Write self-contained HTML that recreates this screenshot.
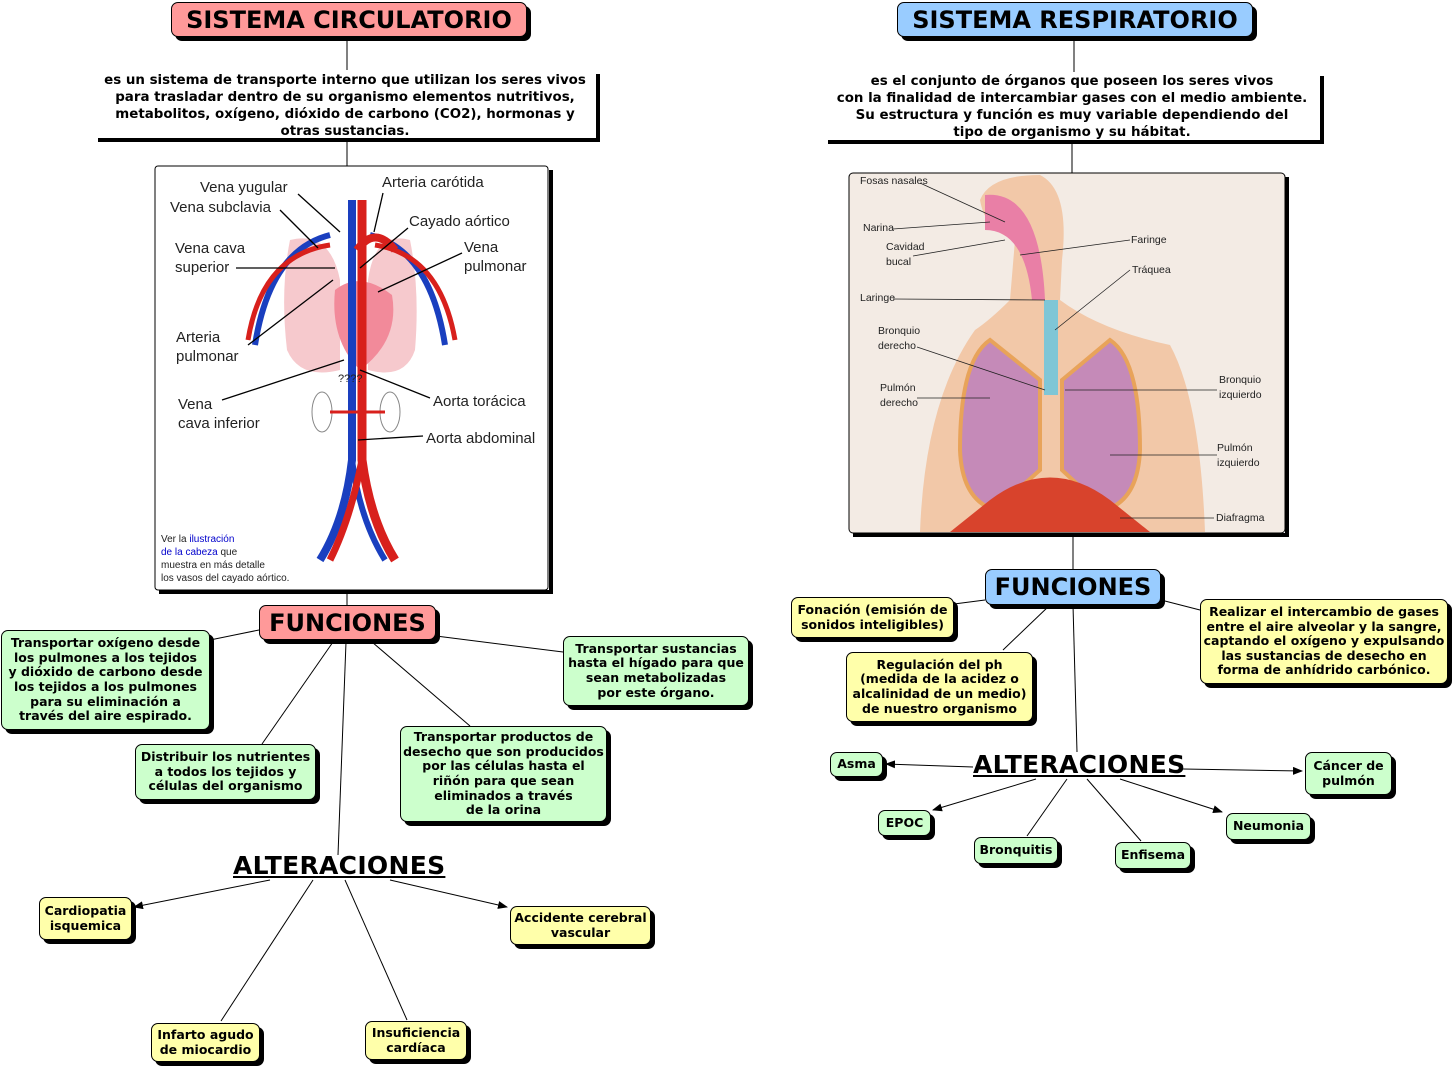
<!DOCTYPE html>
<html><head><meta charset="utf-8">
<style>
body{margin:0;width:1456px;height:1068px;background:#fff;position:relative;overflow:hidden;font-family:"DejaVu Sans","Liberation Sans",sans-serif;}
.b{position:absolute;box-sizing:border-box;border:1px solid #000;border-radius:7px;box-shadow:4px 4px 0 #000;display:flex;align-items:center;justify-content:center;text-align:center;font-weight:bold;font-size:12.5px;line-height:14.6px;color:#000;}
.g{background:#ccffcc}.y{background:#ffffaa}.p{background:#ff9999}.bl{background:#99ccff}
.t{font-size:24px;line-height:28px;font-family:"DejaVu Sans",sans-serif;}
.d{position:absolute;box-sizing:border-box;background:#fff;box-shadow:4px 4px 0 #000;text-align:center;font-weight:bold;font-size:13.4px;line-height:17px;white-space:nowrap;}
.alt{position:absolute;font-weight:bold;font-size:25px;letter-spacing:0.3px;text-decoration:underline;}
.lab{position:absolute;font-family:"Liberation Sans",sans-serif;font-size:15px;line-height:19px;color:#222;}
.sl{position:absolute;font-family:"Liberation Sans",sans-serif;font-size:10.5px;line-height:15px;color:#222;}
svg{position:absolute;left:0;top:0}
</style></head><body>
<svg width="1456" height="1068">
<defs><marker id="a" markerWidth="10" markerHeight="8" refX="9" refY="4" orient="auto"><path d="M0,0L10,4L0,8z" fill="#000"/></marker></defs>
<g stroke="#000" stroke-width="1" fill="none">
<line x1="347" y1="37" x2="347" y2="72"/><line x1="347" y1="138" x2="347" y2="166"/><line x1="347" y1="592" x2="347" y2="605"/>
<line x1="259" y1="630" x2="210" y2="640"/><line x1="333" y1="642" x2="262" y2="744"/><line x1="346" y1="642" x2="338" y2="855"/>
<line x1="372" y1="642" x2="470" y2="726"/><line x1="436" y1="636" x2="563" y2="652"/>
<line x1="270" y1="880" x2="134" y2="907" marker-end="url(#a)"/><line x1="390" y1="880" x2="507" y2="907" marker-end="url(#a)"/>
<line x1="313" y1="880" x2="221" y2="1021"/><line x1="345" y1="880" x2="407" y2="1020"/>
<line x1="1074" y1="37" x2="1074" y2="72"/><line x1="1072" y1="142" x2="1072" y2="173"/><line x1="1073" y1="534" x2="1073" y2="569"/>
<line x1="985" y1="600" x2="954" y2="604"/><line x1="1050" y1="605" x2="1003" y2="650"/><line x1="1073" y1="605" x2="1077" y2="752"/><line x1="1161" y1="600" x2="1200" y2="610"/>
<line x1="973" y1="767" x2="886" y2="764" marker-end="url(#a)"/><line x1="1183" y1="769" x2="1302" y2="771" marker-end="url(#a)"/>
<line x1="1036" y1="779" x2="933" y2="810" marker-end="url(#a)"/><line x1="1067" y1="779" x2="1027" y2="836"/>
<line x1="1087" y1="779" x2="1141" y2="841"/><line x1="1120" y1="779" x2="1222" y2="812" marker-end="url(#a)"/>
</g>
<rect x="155" y="166" width="393" height="424" fill="#fff" stroke="#000" stroke-width="1" rx="3"/>
<rect x="549" y="170" width="4" height="424" fill="#000"/><rect x="159" y="590" width="394" height="4" fill="#000"/>
<g>
<path d="M290,240 Q330,230 340,280 L340,370 Q300,380 287,350 Q280,290 290,240z" fill="#f6c9cd"/>
<path d="M410,240 Q375,230 368,280 L368,370 Q405,380 415,350 Q420,290 410,240z" fill="#f6c9cd"/>
<path d="M335,290 Q360,270 392,295 Q400,340 360,370 Q330,340 335,290z" fill="#f28a9a"/>
<path d="M255,345 Q270,250 330,235" stroke="#1a3fbf" stroke-width="6" fill="none"/>
<path d="M445,345 Q430,250 370,235" stroke="#1a3fbf" stroke-width="6" fill="none"/>
<path d="M248,340 Q262,255 330,245" stroke="#d8201c" stroke-width="5" fill="none"/>
<path d="M455,340 Q440,255 375,245" stroke="#d8201c" stroke-width="5" fill="none"/>
<path d="M352,200 L352,460 Q345,520 320,560" stroke="#1a3fbf" stroke-width="8" fill="none"/>
<path d="M362,200 L362,460 Q370,520 395,560" stroke="#d8201c" stroke-width="9" fill="none"/>
<path d="M352,460 Q360,520 385,560" stroke="#1a3fbf" stroke-width="6" fill="none"/>
<path d="M362,460 Q350,520 330,560" stroke="#d8201c" stroke-width="7" fill="none"/>
<ellipse cx="322" cy="412" rx="10" ry="20" fill="#fff" stroke="#888"/><ellipse cx="390" cy="412" rx="10" ry="20" fill="#fff" stroke="#888"/>
<path d="M330,412 L385,412" stroke="#d8201c" stroke-width="3"/>
<path d="M357,250 Q375,225 395,250" stroke="#d8201c" stroke-width="8" fill="none"/>
</g>
<g stroke="#000" stroke-width="1.3">
<line x1="298" y1="194" x2="340" y2="232"/><line x1="280" y1="210" x2="318" y2="248"/><line x1="236" y1="268" x2="335" y2="268"/>
<line x1="248" y1="345" x2="333" y2="280"/><line x1="222" y1="400" x2="344" y2="360"/><line x1="383" y1="193" x2="374" y2="232"/>
<line x1="408" y1="228" x2="360" y2="268"/><line x1="462" y1="253" x2="378" y2="292"/><line x1="430" y1="398" x2="360" y2="370"/><line x1="423" y1="436" x2="358" y2="440"/>
</g>
<rect x="849" y="173" width="436" height="360" fill="#f3ebe4" stroke="#000" rx="4"/>
<rect x="1285" y="177" width="4" height="360" fill="#000"/><rect x="853" y="533" width="436" height="4" fill="#000"/>
<path d="M920,532 Q925,400 975,330 Q990,320 1010,300 L1015,240 Q985,230 980,200 Q990,175 1040,175 Q1070,190 1062,260 L1060,300 Q1100,330 1170,345 Q1200,400 1205,532z" fill="#f2c8a8"/>
<path d="M990,340 Q960,360 960,450 Q962,500 995,510 L1040,470 L1040,380z" fill="#c58ab8" stroke="#e8a35a" stroke-width="4"/>
<path d="M1110,340 Q1140,360 1140,450 Q1138,500 1105,510 L1062,470 L1062,380z" fill="#c58ab8" stroke="#e8a35a" stroke-width="4"/>
<rect x="1044" y="300" width="14" height="95" fill="#7fc6d6"/>
<path d="M985,195 Q1040,190 1045,300 L1032,300 Q1025,230 985,230z" fill="#e97fa6"/>
<path d="M990,500 Q1050,455 1110,500 L1150,532 L950,532z" fill="#d8432c"/>
<g stroke="#222" stroke-width="0.8">
<line x1="920" y1="183" x2="1005" y2="222"/><line x1="893" y1="229" x2="990" y2="222"/><line x1="913" y1="256" x2="1005" y2="240"/>
<line x1="1130" y1="240" x2="1020" y2="255"/><line x1="1130" y1="270" x2="1055" y2="330"/><line x1="893" y1="299" x2="1045" y2="300"/>
<line x1="917" y1="347" x2="1045" y2="390"/><line x1="917" y1="398" x2="990" y2="398"/><line x1="1217" y1="390" x2="1065" y2="390"/>
<line x1="1217" y1="455" x2="1110" y2="455"/><line x1="1214" y1="518" x2="1120" y2="518"/>
</g>
</svg>
<div class="b p t" style="left:171px;top:2px;width:356px;height:35px">SISTEMA CIRCULATORIO</div>
<div class="b bl t" style="left:897px;top:2px;width:356px;height:35px">SISTEMA RESPIRATORIO</div>
<div class="d" style="left:94px;top:70px;width:502px;height:68px;padding-top:2px">es un sistema de transporte interno que utilizan los seres vivos<br>para trasladar dentro de su organismo elementos nutritivos,<br>metabolitos, oxígeno, dióxido de carbono (CO2), hormonas y<br>otras sustancias.</div>
<div class="d" style="left:824px;top:72px;width:496px;height:68px;padding-top:1px">es el conjunto de órganos que poseen los seres vivos<br>con la finalidad de intercambiar gases con el medio ambiente.<br>Su estructura y función es muy variable dependiendo del<br>tipo de organismo y su hábitat.</div>
<div class="lab" style="left:200px;top:178px">Vena yugular</div>
<div class="lab" style="left:170px;top:198px">Vena subclavia</div>
<div class="lab" style="left:175px;top:239px">Vena cava<br>superior</div>
<div class="lab" style="left:176px;top:328px">Arteria<br>pulmonar</div>
<div class="lab" style="left:178px;top:395px">Vena<br>cava inferior</div>
<div class="lab" style="left:382px;top:173px">Arteria carótida</div>
<div class="lab" style="left:409px;top:212px">Cayado aórtico</div>
<div class="lab" style="left:464px;top:238px">Vena<br>pulmonar</div>
<div class="lab" style="left:433px;top:392px">Aorta torácica</div>
<div class="lab" style="left:426px;top:429px">Aorta abdominal</div>
<div class="lab" style="left:338px;top:370px;font-size:11px">????</div>
<div style="position:absolute;left:161px;top:533px;font-family:'Liberation Sans',sans-serif;font-size:10px;line-height:13px;color:#222">Ver la <span style="color:#00c">ilustración<br>de la cabeza</span> que<br>muestra en más detalle<br>los vasos del cayado aórtico.</div>
<div class="sl" style="left:860px;top:174px">Fosas nasales</div>
<div class="sl" style="left:863px;top:221px">Narina</div>
<div class="sl" style="left:886px;top:240px">Cavidad<br>bucal</div>
<div class="sl" style="left:860px;top:291px">Laringe</div>
<div class="sl" style="left:878px;top:324px">Bronquio<br>derecho</div>
<div class="sl" style="left:880px;top:381px">Pulmón<br>derecho</div>
<div class="sl" style="left:1131px;top:233px">Faringe</div>
<div class="sl" style="left:1132px;top:263px">Tráquea</div>
<div class="sl" style="left:1219px;top:373px">Bronquio<br>izquierdo</div>
<div class="sl" style="left:1217px;top:441px">Pulmón<br>izquierdo</div>
<div class="sl" style="left:1216px;top:511px">Diafragma</div>
<div class="b p t" style="left:259px;top:605px;width:177px;height:35px">FUNCIONES</div>
<div class="b bl t" style="left:985px;top:569px;width:176px;height:36px">FUNCIONES</div>
<div class="b g" style="left:1px;top:630px;width:209px;height:100px">Transportar oxígeno desde<br>los pulmones a los tejidos<br>y dióxido de carbono desde<br>los tejidos a los pulmones<br>para su eliminación a<br>través del aire espirado.</div>
<div class="b g" style="left:135px;top:744px;width:181px;height:56px">Distribuir los nutrientes<br>a todos los tejidos y<br>células del organismo</div>
<div class="b g" style="left:563px;top:636px;width:186px;height:70px">Transportar sustancias<br>hasta el hígado para que<br>sean metabolizadas<br>por este órgano.</div>
<div class="b g" style="left:400px;top:726px;width:207px;height:96px">Transportar productos de<br>desecho que son producidos<br>por las células hasta el<br>riñón para que sean<br>eliminados a través<br>de la orina</div>
<div class="alt" style="left:233px;top:851px">ALTERACIONES</div>
<div class="b y" style="left:39px;top:897px;width:93px;height:43px">Cardiopatia<br>isquemica</div>
<div class="b y" style="left:510px;top:906px;width:141px;height:39px">Accidente cerebral<br>vascular</div>
<div class="b y" style="left:151px;top:1023px;width:109px;height:39px">Infarto agudo<br>de miocardio</div>
<div class="b y" style="left:365px;top:1021px;width:102px;height:39px">Insuficiencia<br>cardíaca</div>
<div class="b y" style="left:791px;top:597px;width:163px;height:41px">Fonación (emisión de<br>sonidos inteligibles)</div>
<div class="b y" style="left:846px;top:652px;width:187px;height:70px">Regulación del ph<br>(medida de la acidez o<br>alcalinidad de un medio)<br>de nuestro organismo</div>
<div class="b y" style="left:1200px;top:599px;width:248px;height:85px">Realizar el intercambio de gases<br>entre el aire alveolar y la sangre,<br>captando el oxígeno y expulsando<br>las sustancias de desecho en<br>forma de anhídrido carbónico.</div>
<div class="alt" style="left:973px;top:750px">ALTERACIONES</div>
<div class="b g" style="left:830px;top:752px;width:53px;height:25px">Asma</div>
<div class="b g" style="left:878px;top:810px;width:53px;height:26px">EPOC</div>
<div class="b g" style="left:974px;top:837px;width:84px;height:27px">Bronquitis</div>
<div class="b g" style="left:1115px;top:842px;width:76px;height:27px">Enfisema</div>
<div class="b g" style="left:1226px;top:813px;width:85px;height:27px">Neumonia</div>
<div class="b g" style="left:1305px;top:752px;width:87px;height:43px">Cáncer de<br>pulmón</div>
</body></html>
